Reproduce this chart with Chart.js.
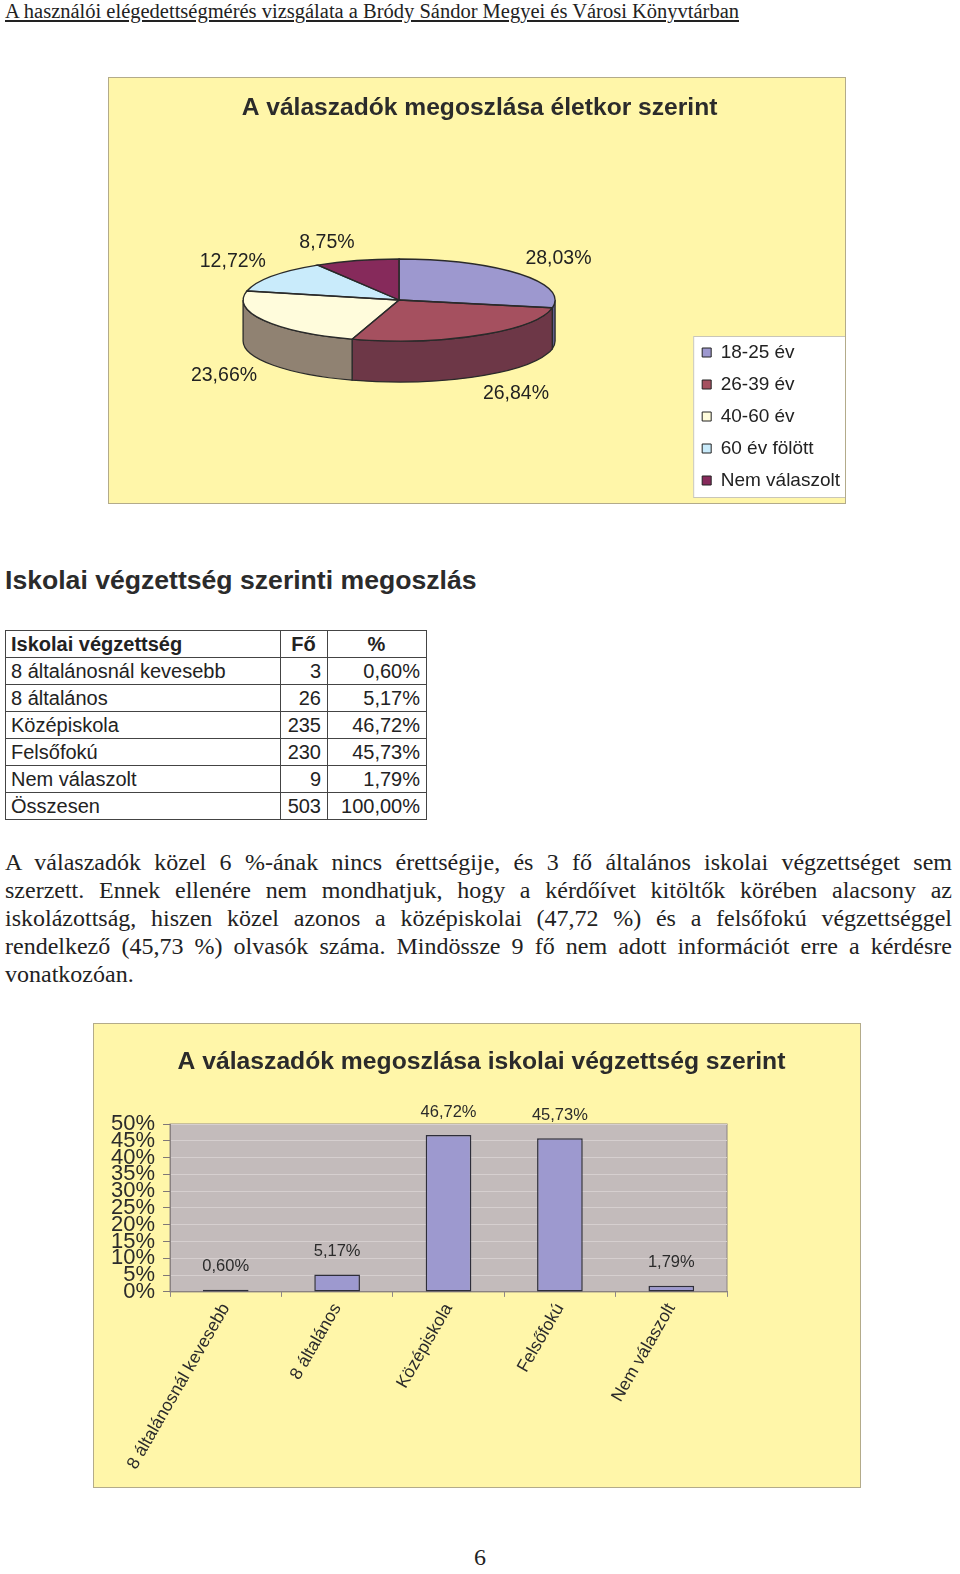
<!DOCTYPE html>
<html lang="hu">
<head>
<meta charset="utf-8">
<title>A válaszadók megoszlása</title>
<script src="https://cdn.jsdelivr.net/npm/chart.js@4.4.1/dist/chart.umd.min.js"></script>
<style>
  html, body { margin: 0; padding: 0; background: #fff; }
  body { position: relative; width: 960px; height: 1574px; overflow: hidden; color: #222; }
  #header { position: absolute; left: 5px; top: 0; font: 20.5px/22px "Liberation Serif", serif; text-decoration: underline; white-space: nowrap; }
  .chartbox { position: absolute; background: #fff6a9; border: 1px solid #b3ab8a; }
  .chartbox canvas { display: block; }
  #pieBox { left: 108px; top: 77px; width: 736px; height: 425px; }
  #barBox { left: 93px; top: 1023px; width: 766px; height: 463px; }
  #heading { position: absolute; left: 5px; top: 565px; font: bold 26.6px/30px "Liberation Sans", Arial, sans-serif; color: #2b2b2b; white-space: nowrap; }
  #eduTable { position: absolute; left: 5px; top: 630px; width: 421px; table-layout: fixed; border-collapse: collapse; font: 20px/1 "Liberation Sans", Arial, sans-serif; color: #222; }
  #eduTable td { border: 1px solid #444; padding: 0 6px 0 5px; height: 27px; box-sizing: border-box; white-space: nowrap; }
  #eduTable td.num { text-align: right; }
  #eduTable tr.head td { font-weight: bold; }
  #eduTable tr.head td.num { text-align: center; }
  #para { position: absolute; left: 5px; top: 848px; width: 947px; font: 24px/28px "Liberation Serif", serif; color: #222; }
  #para span { display: block; text-align: justify; text-align-last: justify; }
  #para span.last { text-align-last: left; }
  #pageNo { position: absolute; left: 0; top: 1545px; width: 960px; text-align: center; font: 24px/24px "Liberation Serif", serif; }
</style>
</head>
<body>
<div id="header">A használói elégedettségmérés vizsgálata a Bródy Sándor Megyei és Városi Könyvtárban</div>

<div id="pieBox" class="chartbox"><canvas id="pieChart" width="736" height="425"></canvas></div>

<div id="heading">Iskolai végzettség szerinti megoszlás</div>

<table id="eduTable">
  <colgroup><col style="width:275px"><col style="width:47px"><col style="width:99px"></colgroup>
  <tbody id="eduBody"></tbody>
</table>

<div id="para">
  <span>A válaszadók közel 6 %-ának nincs érettségije, és 3 fő általános iskolai végzettséget sem</span>
  <span>szerzett. Ennek ellenére nem mondhatjuk, hogy a kérdőívet kitöltők körében alacsony az</span>
  <span>iskolázottság, hiszen közel azonos a középiskolai (47,72 %) és a felsőfokú végzettséggel</span>
  <span>rendelkező (45,73 %) olvasók száma. Mindössze 9 fő nem adott információt erre a kérdésre</span>
  <span class="last">vonatkozóan.</span>
</div>

<div id="barBox" class="chartbox"><canvas id="barChart" width="766" height="463"></canvas></div>

<div id="pageNo">6</div>

<script>
// age distribution (pie)
const ageLabels = ['18-25 év', '26-39 év', '40-60 év', '60 év fölött', 'Nem válaszolt'];
const agePercents = [28.03, 26.84, 23.66, 12.72, 8.75];
const ageTopColors = ['#9d98cf', '#a5505f', '#fffcdc', '#c9ebfb', '#862a5b'];
const ageSideColors = ['#625e8c', '#6d3747', '#908272', '#8aa4b0', '#5a1c3d'];

// education (table + bar)
const eduLabels = ['8 általánosnál kevesebb', '8 általános', 'Középiskola', 'Felsőfokú', 'Nem válaszolt'];
const eduCounts = [3, 26, 235, 230, 9];
const eduPercents = [0.60, 5.17, 46.72, 45.73, 1.79];
const eduTotalLabel = 'Összesen';
const eduTotalCount = 503;
const eduTotalPercent = 100.00;
const yMax = 50;
const yStep = 5;

const FONT = '"Liberation Sans", Arial, sans-serif';
const huPercent = v => v.toFixed(2).replace('.', ',') + '%';

// table
const body = document.getElementById('eduBody');
const addRow = (cells, cls) => {
  const tr = document.createElement('tr');
  if (cls) tr.className = cls;
  cells.forEach((c, i) => {
    const td = document.createElement('td');
    td.textContent = c;
    if (i > 0) td.className = 'num';
    tr.appendChild(td);
  });
  body.appendChild(tr);
};
addRow(['Iskolai végzettség', 'Fő', '%'], 'head');
eduLabels.forEach((l, i) => addRow([l, eduCounts[i], huPercent(eduPercents[i])]));
addRow([eduTotalLabel, eduTotalCount, huPercent(eduTotalPercent)]);

// --- pie: squashed top face + front side wall
const TILT = 0.263;
const DEPTH = 41;

const pie3d = {
  id: 'pie3d',
  beforeDatasetsDraw(chart) {
    const ctx = chart.ctx;
    const arcs = chart.getDatasetMeta(0).data;
    ctx.save();
    ctx.translate(0, -DEPTH / 2);
    arcs.forEach((arc, i) => {
      const { x, y, startAngle, endAngle, outerRadius: r } = arc;
      for (const off of [0, 2 * Math.PI]) {
        const a1 = Math.max(startAngle, off);
        const a2 = Math.min(endAngle, Math.PI + off);
        if (a2 <= a1) continue;
        ctx.beginPath();
        ctx.ellipse(x, y, r, r * TILT, 0, a1, a2);
        ctx.lineTo(x + r * Math.cos(a2), y + r * TILT * Math.sin(a2) + DEPTH);
        ctx.ellipse(x, y + DEPTH, r, r * TILT, 0, a2, a1, true);
        ctx.closePath();
        ctx.fillStyle = ageSideColors[i];
        ctx.fill();
        ctx.lineWidth = 1.3;
        ctx.strokeStyle = '#2a2a2a';
        ctx.stroke();
      }
    });
    const { x, y } = arcs[0];
    ctx.translate(x, y);
    ctx.scale(1, TILT);
    ctx.translate(-x, -y);
  },
  afterDatasetsDraw(chart) {
    const ctx = chart.ctx;
    ctx.restore();
    const arcs = chart.getDatasetMeta(0).data;
    ctx.save();
    ctx.translate(0, -DEPTH / 2);
    ctx.lineWidth = 1.3;
    ctx.strokeStyle = '#2a2a2a';
    arcs.forEach(arc => {
      const { x, y, startAngle, endAngle, outerRadius: r } = arc;
      ctx.beginPath();
      ctx.moveTo(x, y);
      ctx.ellipse(x, y, r, r * TILT, 0, startAngle, endAngle);
      ctx.closePath();
      ctx.stroke();
    });
    // percent labels sit just outside the rim, pushed out by half their size
    ctx.font = '19.5px ' + FONT;
    ctx.fillStyle = '#222';
    ctx.textAlign = 'center';
    ctx.textBaseline = 'middle';
    arcs.forEach((arc, i) => {
      const text = huPercent(agePercents[i]);
      const w = ctx.measureText(text).width;
      const mid = (arc.startAngle + arc.endAngle) / 2;
      const c = Math.cos(mid), s = Math.sin(mid);
      const lx = arc.x + arc.outerRadius * 1.05 * c + Math.sign(c) * w / 2;
      const ly = arc.y + arc.outerRadius * TILT * 1.2 * s + Math.sign(s) * 10 + (s > 0 ? DEPTH : 0);
      ctx.fillText(text, lx, ly);
    });
    ctx.restore();
  }
};

const legendBox = {
  id: 'legendBox',
  beforeDraw(chart) {
    const boxes = chart.legend.legendHitBoxes;
    if (!boxes || !boxes.length) return;
    const ctx = chart.ctx;
    const left = Math.min(...boxes.map(b => b.left)) - 9;
    const top = Math.min(...boxes.map(b => b.top)) - 7;
    const right = Math.max(...boxes.map(b => b.left + b.width)) + 6;
    const bottom = Math.max(...boxes.map(b => b.top + b.height)) + 7;
    ctx.save();
    ctx.fillStyle = '#ffffff';
    ctx.fillRect(left, top, right - left, bottom - top);
    ctx.strokeStyle = '#c9c6b8';
    ctx.lineWidth = 1;
    ctx.strokeRect(left + 0.5, top + 0.5, right - left, bottom - top);
    ctx.restore();
  }
};

new Chart(document.getElementById('pieChart'), {
  type: 'pie',
  data: {
    labels: ageLabels,
    datasets: [{
      data: agePercents,
      backgroundColor: ageTopColors,
      borderWidth: 0
    }]
  },
  options: {
    responsive: false,
    animation: false,
    radius: 156,
    layout: { padding: { left: 0, right: -5, top: 0, bottom: 0 } },
    plugins: {
      title: {
        display: true,
        text: 'A válaszadók megoszlása életkor szerint',
        color: '#2b2b2b',
        font: { family: FONT, size: 24.6, weight: 'bold' },
        padding: { top: 15.2, bottom: 15.3 }
      },
      legend: {
        position: 'right',
        align: 'end',
        labels: {
          boxWidth: 9,
          boxHeight: 9,
          padding: 13,
          color: '#222',
          font: { family: FONT, size: 19 },
          generateLabels(chart) {
            return Chart.overrides.pie.plugins.legend.labels.generateLabels(chart)
              .map(l => ({ ...l, lineWidth: 1, strokeStyle: '#222' }));
          }
        }
      },
      tooltip: { enabled: false }
    }
  },
  plugins: [legendBox, pie3d]
});

// --- bar chart
const plotBg = {
  id: 'plotBg',
  beforeDraw(chart) {
    const { ctx, chartArea: a } = chart;
    ctx.save();
    ctx.fillStyle = '#c3bbbb';
    ctx.fillRect(a.left, a.top, a.width, a.height);
    ctx.strokeStyle = '#8a8282';
    ctx.lineWidth = 1;
    ctx.strokeRect(a.left, a.top, a.width, a.height);
    ctx.restore();
  }
};

const barValues = {
  id: 'barValues',
  afterDatasetsDraw(chart) {
    const ctx = chart.ctx;
    ctx.save();
    ctx.font = '16.5px ' + FONT;
    ctx.fillStyle = '#2b2b2b';
    ctx.textAlign = 'center';
    ctx.textBaseline = 'middle';
    chart.getDatasetMeta(0).data.forEach((bar, i) => {
      ctx.fillText(huPercent(eduPercents[i]), bar.x, bar.y - 23);
    });
    ctx.restore();
  }
};

new Chart(document.getElementById('barChart'), {
  type: 'bar',
  data: {
    labels: eduLabels,
    datasets: [{
      data: eduPercents,
      backgroundColor: '#9d99cf',
      borderColor: '#2e2e3a',
      borderWidth: 1.5,
      borderSkipped: false,
      barPercentage: 0.41,
      categoryPercentage: 1
    }]
  },
  options: {
    responsive: false,
    animation: false,
    layout: { padding: { left: 9, right: 0, top: 0, bottom: 11 } },
    plugins: {
      title: {
        display: true,
        text: 'A válaszadók megoszlása iskolai végzettség szerint',
        color: '#2b2b2b',
        font: { family: FONT, size: 24.7, weight: 'bold' },
        padding: { top: 23.6, bottom: 46.8 }
      },
      legend: { display: false },
      tooltip: { enabled: false }
    },
    scales: {
      x: {
        grid: { display: true, drawOnChartArea: false, offset: true, tickLength: 5, tickColor: '#8f8787' },
        border: { display: true, color: '#8a8282', width: 1 },
        ticks: {
          color: '#2b2b2b',
          font: { family: FONT, size: 17.5 },
          minRotation: 60,
          maxRotation: 60,
          autoSkip: false,
          padding: 3
        },
        afterFit(scale) { scale.paddingLeft = 0; }
      },
      y: {
        min: 0,
        max: yMax,
        grid: { color: '#d6cfcf', tickColor: '#7f7777', tickLength: 7, lineWidth: 1 },
        border: { display: true, color: '#8a8282', width: 1 },
        ticks: {
          stepSize: yStep,
          autoSkip: false,
          padding: 8,
          color: '#2b2b2b',
          font: { family: FONT, size: 22 },
          callback: v => v + '%'
        }
      },
      // empty right-hand margin of the plot, as in the original sheet
      yRight: {
        position: 'right',
        display: true,
        grid: { display: false },
        border: { display: false },
        ticks: { display: false },
        afterFit(scale) { scale.width = 133; }
      }
    }
  },
  plugins: [plotBg, barValues]
});
</script>
</body>
</html>
